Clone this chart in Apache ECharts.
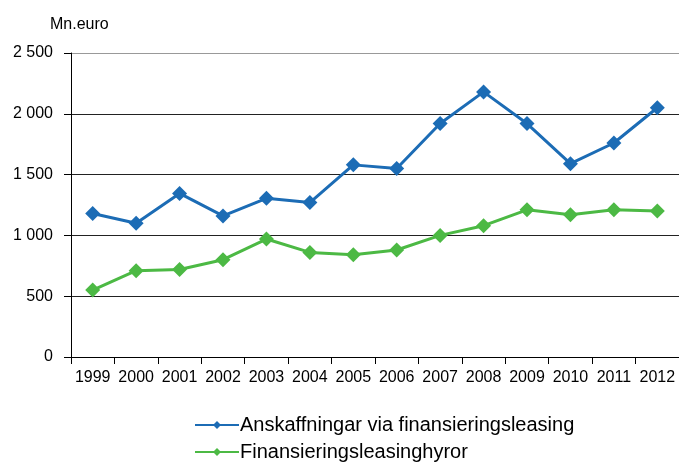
<!DOCTYPE html>
<html><head><meta charset="utf-8">
<script src="https://cdn.jsdelivr.net/npm/echarts@6/dist/echarts.min.js"></script>
<style>html,body{margin:0;padding:0;background:#fff}#c{width:679px;height:463px}</style>
</head><body><div id="c"></div>
<script>
const years = ['1999','2000','2001','2002','2003','2004','2005','2006','2007','2008','2009','2010','2011','2012'];
const anskaffningar = [1180,1100,1345,1160,1305,1270,1580,1550,1920,2180,1920,1590,1760,2050];
const hyror = [550,710,720,800,970,860,840,880,1000,1080,1210,1170,1210,1200];
const seriesNames = ['Anskaffningar via finansieringsleasing','Finansieringsleasinghyror'];
const unitLabel = 'Mn.euro';

const font = 'Liberation Sans, Arial, sans-serif';
const legendCommon = {
  orient: 'horizontal', left: 194, itemWidth: 44, itemHeight: 10, padding: 0,
  textStyle: {fontSize: 20, color: '#000', fontFamily: font, padding: [0,0,0,-4]}
};
const chart = echarts.init(document.getElementById('c'));
chart.setOption({
  animation: false,
  textStyle: {fontFamily: font},
  grid: {left: 71, right: 0, top: 53, bottom: 106, containLabel: false},
  title: {text: unitLabel, left: 45, top: 12, textStyle: {fontSize: 16, fontWeight: 'normal', color: '#000', fontFamily: font}},
  legend: [
    Object.assign({}, legendCommon, {top: 415, data: [seriesNames[0]]}),
    Object.assign({}, legendCommon, {top: 442, data: [seriesNames[1]]})
  ],
  xAxis: {
    type: 'category', data: years, boundaryGap: true,
    axisLine: {lineStyle: {color: '#000', width: 1}},
    axisTick: {show: true, length: 7, lineStyle: {color: '#000'}, alignWithLabel: false},
    axisLabel: {color: '#000', fontSize: 16, margin: 13, interval: 0, fontFamily: font}
  },
  yAxis: {
    type: 'value', min: 0, max: 2500, interval: 500,
    axisLine: {show: true, lineStyle: {color: '#000', width: 1}},
    axisTick: {show: true, length: 7, lineStyle: {color: '#000'}},
    axisLabel: {color: '#000', fontSize: 16, margin: 18, fontFamily: font,
      formatter: v => v >= 1000 ? String(Math.floor(v/1000)) + ' ' + String(v % 1000).padStart(3,'0') : String(v)},
    splitLine: {show: true, lineStyle: {color: ['#000','#222','#222','#222','#222','#999'], width: 1}}
  },
  series: [
    {name: seriesNames[0], type: 'line', data: anskaffningar, symbol: 'diamond', symbolSize: 15,
     lineStyle: {color: '#1c6cb5', width: 3}, itemStyle: {color: '#1c6cb5'}},
    {name: seriesNames[1], type: 'line', data: hyror, symbol: 'diamond', symbolSize: 15,
     lineStyle: {color: '#4cb944', width: 3}, itemStyle: {color: '#4cb944'}}
  ]
});
</script></body></html>
